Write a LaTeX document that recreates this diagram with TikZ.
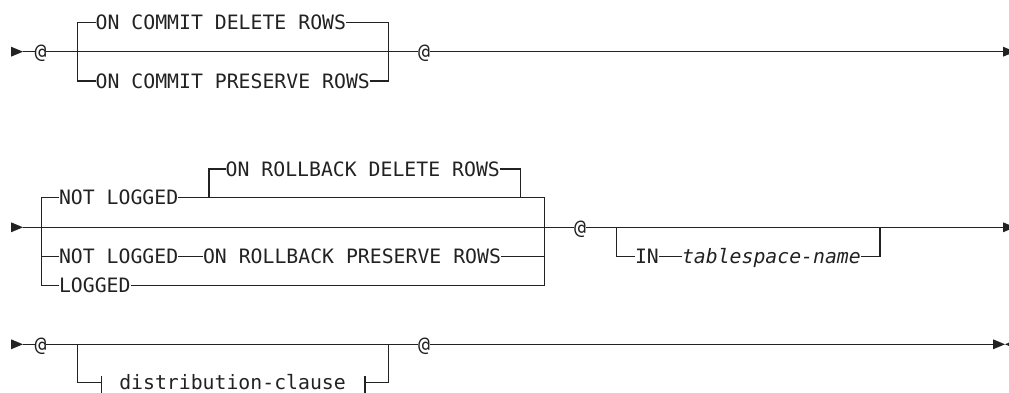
\documentclass[tikz,border=0pt]{standalone}
\usepackage{fontspec}
\setmonofont{DejaVu Sans Mono}[ItalicFont={DejaVu Sans Mono Oblique}]
\definecolor{ink}{HTML}{222222}
\begin{document}
\begin{tikzpicture}[x=1pt,y=-1pt,
  every node/.style={inner sep=0pt, outer sep=0pt, anchor=west,
    font=\ttfamily\fontsize{19.8}{24}\selectfont,
    text height=14.4pt, text depth=0pt, text=ink},
  rail/.style={draw=ink, line width=1.3pt}]
\useasboundingbox (0,0) rectangle (1009,393);
\clip (0,0) rectangle (1009,393);
% ---------- row 1
\coordinate (s1) at (23,51.7);
\coordinate (e1) at (1003,51.7);
\coordinate (L1) at (77.3,51.7);
\coordinate (R1) at (388.3,51.7);
\node (at1) at (34.5,51.7) {@};
\node (d1) at (95.7,22.3) {ON COMMIT DELETE ROWS};
\node (p1) at (95.7,81) {ON COMMIT PRESERVE ROWS};
\node (at2) at (418,51.7) {@};
\draw[rail] (s1) -- (at1.west) (at1.east) -- (at2.west) (at2.east) -- (e1);
\draw[rail] (d1.west) -| (L1) |- (p1.west);
\draw[rail] (d1.east) -| (R1) |- (p1.east);
\fill[ink] ([xshift=-12pt,yshift=5pt]s1) -- (s1) -- ([xshift=-12pt,yshift=-5pt]s1) -- cycle;
\fill[ink] ([yshift=5pt]e1) -- ([xshift=12pt]e1) -- ([yshift=-5pt]e1) -- cycle;
% ---------- row 2
\coordinate (s2) at (23,227.3);
\coordinate (e2) at (1003,227.3);
\coordinate (L2) at (41.7,227.3);
\coordinate (R2) at (544.3,227.3);
\coordinate (dl) at (209,197.7);
\coordinate (dr) at (520.7,197.7);
\coordinate (iL) at (616.5,227.3);
\coordinate (iR) at (880,227.3);
\node (n1) at (59,197.7) {NOT LOGGED};
\node (r1) at (225.7,169) {ON ROLLBACK DELETE ROWS};
\node (n2) at (59,256.7) {NOT LOGGED};
\node (r2) at (203,256.7) {ON ROLLBACK PRESERVE ROWS};
\node (lg) at (59,285.7) {LOGGED};
\node (at3) at (574,227.3) {@};
\node (innode) at (635,256.7) {IN};
\node (ts) at (682,256.7) {\itshape tablespace-name};
\draw[rail] (s2) -- (at3.west) (at3.east) -- (e2);
\draw[rail] (n1.west) -| (L2) |- (lg.west);
\draw[rail] (n2.west) -- (n2.west -| L2);
\draw[rail] (n1.east) -| (R2) |- (lg.east);
\draw[rail] (r1.west) -| (dl);
\draw[rail] (r1.east) -| (dr);
\draw[rail] (n2.east) -- (r2.west) (r2.east) -- (r2.east -| R2);
\draw[rail] (iL) |- (innode.west) (innode.east) -- (ts.west) (ts.east) -| (iR);
\fill[ink] ([xshift=-12pt,yshift=5pt]s2) -- (s2) -- ([xshift=-12pt,yshift=-5pt]s2) -- cycle;
\fill[ink] ([yshift=5pt]e2) -- ([xshift=12pt]e2) -- ([yshift=-5pt]e2) -- cycle;
% ---------- row 3
\coordinate (s3) at (23,344.3);
\coordinate (e3) at (993,344.3);
\coordinate (L3) at (77.3,344.3);
\coordinate (R3) at (388.3,344.3);
\coordinate (fl) at (101.7,382.3);
\coordinate (fr) at (365,382.3);
\node (at4) at (34.5,344.3) {@};
\node (at5) at (418,344.3) {@};
\node (dc) at (119.3,382.3) {distribution-clause};
\draw[rail] (s3) -- (at4.west) (at4.east) -- (at5.west) (at5.east) -- (e3);
\draw[rail] (L3) |- (fl) (fr) -| (R3);
\draw[rail] ([yshift=6.6pt]fl) -- ([yshift=-20pt]fl);
\draw[rail] ([yshift=6.6pt]fr) -- ([yshift=-20pt]fr);
\fill[ink] ([xshift=-12pt,yshift=5pt]s3) -- (s3) -- ([xshift=-12pt,yshift=-5pt]s3) -- cycle;
\fill[ink] ([yshift=5pt]e3) -- ([xshift=12pt]e3) -- ([yshift=-5pt]e3) -- cycle;
\fill[ink] ([xshift=12pt]e3) -- ([xshift=24pt,yshift=5pt]e3) -- ([xshift=24pt,yshift=-5pt]e3) -- cycle;
\end{tikzpicture}
\end{document}
